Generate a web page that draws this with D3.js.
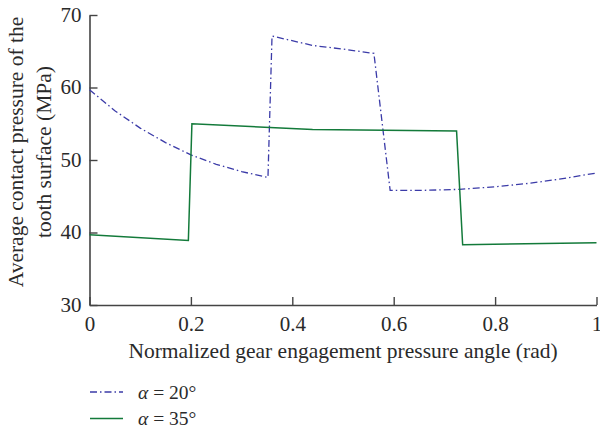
<!DOCTYPE html>
<html><head><meta charset="utf-8">
<script src="https://cdn.jsdelivr.net/npm/d3@7"></script>
<style>body{margin:0;background:#fff}svg{display:block}svg text{font-family:"Liberation Serif","DejaVu Serif",serif !important;fill:#2a2a2a}</style>
</head><body>
<svg id="c" width="600" height="432"></svg>
<script>
const xTicks = [0, 0.2, 0.4, 0.6, 0.8, 1];
const yTicks = [30, 40, 50, 60, 70];
const seriesNames = ["α = 20°", "α = 35°"];
const alpha20X = [0, 0.05, 0.1, 0.15, 0.2, 0.25, 0.3, 0.352, 0.36, 0.44, 0.5, 0.561, 0.593, 0.65, 0.73, 0.8, 0.87, 0.93, 1.0];
const alpha20Y = [59.7, 56.8, 54.4, 52.4, 50.7, 49.4, 48.4, 47.6, 67.1, 65.8, 65.3, 64.7, 45.8, 45.8, 45.95, 46.3, 46.8, 47.4, 48.2];
const alpha35X = [0, 0.195, 0.202, 0.44, 0.724, 0.736, 1.0];
const alpha35Y = [39.7, 38.9, 55.0, 54.2, 54.0, 38.3, 38.6];

const svg = d3.select("#c");
const x = d3.scaleLinear().domain([0, 1]).range([89.5, 596.5]);
const y = d3.scaleLinear().domain([30, 70]).range([305, 15]);
const axisColor = "#444";

const gx = svg.append("g").attr("transform", `translate(0,${y(30)})`)
  .call(d3.axisBottom(x).tickValues(xTicks).tickSizeInner(-8).tickSizeOuter(0).tickPadding(14)
    .tickFormat(d => d === 0 ? "0" : d === 1 ? "1" : d3.format(".1f")(d)));
const gy = svg.append("g").attr("transform", `translate(${x(0)},0)`)
  .call(d3.axisLeft(y).tickValues(yTicks).tickSizeInner(-8).tickSizeOuter(0).tickPadding(8));
[gx, gy].forEach(g => {
  g.attr("font-family", null);
  g.select(".domain").attr("stroke", axisColor).attr("stroke-width", 1.6);
  g.selectAll(".tick line").attr("stroke", axisColor).attr("stroke-width", 1.4);
  g.selectAll(".tick text").attr("font-size", 21).attr("fill", "#2a2a2a");
});
gx.selectAll(".tick text").attr("dy", "0.55em");
gy.selectAll(".tick text").attr("dy", "0.3em");

const line = d3.line().x(d => x(d[0])).y(d => y(d[1]));
const d20 = alpha20X.map((v, i) => [v, alpha20Y[i]]);
const d35 = alpha35X.map((v, i) => [v, alpha35Y[i]]);
const colors = ["#3b3ba8", "#137a3a"];
const dashes = ["7,3,1.5,3", null];

svg.append("path").datum(d20).attr("d", line).attr("fill", "none")
  .attr("stroke", colors[0]).attr("stroke-width", 1.3).attr("stroke-dasharray", dashes[0]);
svg.append("path").datum(d35).attr("d", line).attr("fill", "none")
  .attr("stroke", colors[1]).attr("stroke-width", 1.5);

svg.append("text").attr("x", 343).attr("y", 358).attr("text-anchor", "middle")
  .attr("font-size", 21.5).text("Normalized gear engagement pressure angle (rad)");

const yl = svg.append("text").attr("transform", "translate(0,152) rotate(-90)")
  .attr("text-anchor", "middle").attr("font-size", 21.5);
yl.append("tspan").attr("x", 0).attr("y", 23).text("Average contact pressure of the");
yl.append("tspan").attr("x", 0).attr("y", 51).text("tooth surface (MPa)");

const leg = svg.append("g");
seriesNames.forEach((name, i) => {
  const yy = 392 + i * 26.5;
  leg.append("line").attr("x1", 90).attr("x2", 123).attr("y1", yy).attr("y2", yy)
    .attr("stroke", colors[i]).attr("stroke-width", 1.4).attr("stroke-dasharray", dashes[i]);
  const t = leg.append("text").attr("x", 138).attr("y", yy + 6.5).attr("font-size", 19.5);
  const parts = name.split(" ");
  t.append("tspan").attr("font-style", "italic").text(parts[0]);
  t.append("tspan").text(" " + parts.slice(1).join(" "));
});
</script>
</body></html>
